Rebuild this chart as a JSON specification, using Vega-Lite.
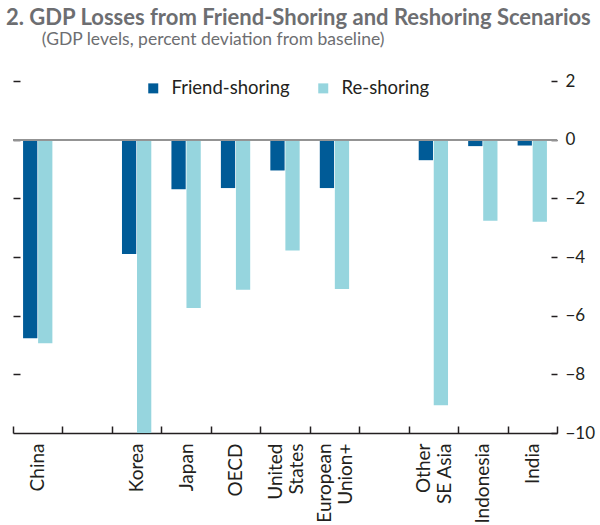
{
  "$schema": "https://vega.github.io/schema/vega-lite/v6.json",
  "width": 544,
  "height": 352,
  "autosize": {"type": "none"},
  "padding": {"left": 13, "top": 81, "right": 43, "bottom": 92},
  "background": "white",
  "config": {
    "view": {"stroke": null},
    "font": "Lato",
    "axis": {"grid": false, "labelFont": "Lato", "labelFontSize": 17, "labelColor": "#231f20", "tickColor": "#231f20", "domainColor": "#231f20"}
  },
  "title": {
    "text": "2. GDP Losses from Friend-Shoring and Reshoring Scenarios",
    "subtitle": "\u200d\u00a0\u00a0\u00a0\u00a0\u00a0\u00a0\u00a0\u00a0(GDP levels, percent deviation from baseline)",
    "anchor": "start",
    "frame": "group",
    "dx": -7,
    "font": "Lato",
    "fontSize": 22,
    "fontWeight": "bold",
    "color": "#6d6e71",
    "subtitleFont": "Lato",
    "subtitleFontSize": 17.5,
    "subtitleColor": "#6d6e71",
    "subtitlePadding": 1,
    "offset": 23
  },
  "data": {
    "values": [
      {"country": "China", "scenario": "Friend-shoring", "value": -6.77},
      {"country": "China", "scenario": "Re-shoring", "value": -6.94},
      {"country": "Korea", "scenario": "Friend-shoring", "value": -3.9},
      {"country": "Korea", "scenario": "Re-shoring", "value": -10},
      {"country": "Japan", "scenario": "Friend-shoring", "value": -1.69},
      {"country": "Japan", "scenario": "Re-shoring", "value": -5.74},
      {"country": "OECD", "scenario": "Friend-shoring", "value": -1.65},
      {"country": "OECD", "scenario": "Re-shoring", "value": -5.12},
      {"country": "United|States", "scenario": "Friend-shoring", "value": -1.05},
      {"country": "United|States", "scenario": "Re-shoring", "value": -3.78},
      {"country": "European|Union+", "scenario": "Friend-shoring", "value": -1.65},
      {"country": "European|Union+", "scenario": "Re-shoring", "value": -5.09},
      {"country": "Other|SE Asia", "scenario": "Friend-shoring", "value": -0.7},
      {"country": "Other|SE Asia", "scenario": "Re-shoring", "value": -9.05},
      {"country": "Indonesia", "scenario": "Friend-shoring", "value": -0.22},
      {"country": "Indonesia", "scenario": "Re-shoring", "value": -2.76},
      {"country": "India", "scenario": "Friend-shoring", "value": -0.2},
      {"country": "India", "scenario": "Re-shoring", "value": -2.8}
    ]
  },
  "layer": [
    {
      "mark": {"type": "bar"},
      "encoding": {
        "x": {
          "field": "country",
          "type": "nominal",
          "sort": null,
          "scale": {
            "domain": ["China", "gap1", "Korea", "Japan", "OECD", "United|States", "European|Union+", "gap2", "Other|SE Asia", "Indonesia", "India"],
            "paddingInner": 0,
            "paddingOuter": 0
          },
          "axis": {
            "title": null,
            "orient": "bottom",
            "labelAngle": -90,
            "labelFontSize": 19,
            "tickBand": "extent",
            "tickSize": -7,
            "tickWidth": 1.5,
            "domainWidth": 1.5,
            "labelPadding": 17,
            "labelLineHeight": 21,
            "labelOffset": {"condition": {"test": "isString(datum.value) && indexof(datum.value, '|') >= 0", "value": -10}, "value": 0},
            "labelExpr": "isString(datum.value) ? (indexof(datum.value, 'gap') == 0 ? '' : split(datum.value, '|')) : ''"
          }
        },
        "xOffset": {
          "field": "scenario",
          "type": "nominal",
          "scale": {"domain": ["Friend-shoring", "Re-shoring"], "paddingInner": 0.05, "paddingOuter": 0.67}
        },
        "y": {
          "field": "value",
          "type": "quantitative",
          "scale": {"domain": [-10, 2], "nice": false},
          "axis": {
            "title": null,
            "orient": "right",
            "values": [2, 0, -2, -4, -6, -8, -10],
            "domain": false,
            "offset": -6,
            "tickSize": 6,
            "tickWidth": 1.5,
            "labelPadding": 8
          }
        },
        "color": {
          "field": "scenario",
          "type": "nominal",
          "scale": {"domain": ["Friend-shoring", "Re-shoring"], "range": ["#005b97", "#96d5de"]},
          "legend": {
            "title": null,
            "orient": "none",
            "direction": "horizontal",
            "legendX": 131,
            "legendY": -2,
            "symbolType": "square",
            "symbolSize": 100,
            "symbolStrokeWidth": 0,
            "labelFontSize": 18.5,
            "labelFont": "Lato",
            "labelColor": "#231f20",
            "labelOffset": 9,
            "columnPadding": 24
          }
        }
      }
    },
    {
      "mark": {"type": "rule", "color": "#939393", "strokeWidth": 1.5},
      "encoding": {
        "y": {
          "datum": 0,
          "type": "quantitative",
          "axis": {
            "title": null,
            "orient": "left",
            "values": [2, 0, -2, -4, -6, -8],
            "labels": false,
            "domain": false,
            "offset": -7,
            "tickSize": 7,
            "tickWidth": 1.5
          }
        }
      }
    }
  ],
  "resolve": {"axis": {"y": "independent"}}
}
